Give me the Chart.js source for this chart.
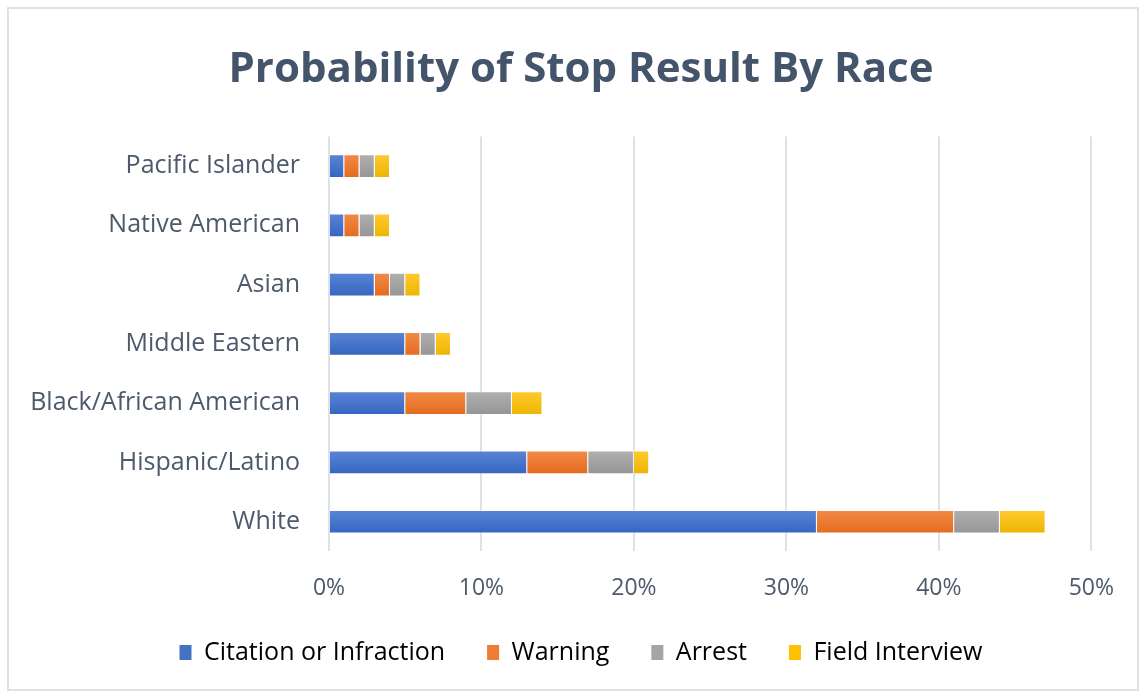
<!DOCTYPE html>
<html>
<head>
<meta charset="utf-8">
<script src="https://cdn.jsdelivr.net/npm/chart.js@4.4.1/dist/chart.umd.min.js"></script>
<style>
  html, body { margin: 0; padding: 0; background: #fff; }
  #frame { position: absolute; left: 7px; top: 7px; width: 1128px; height: 680px; border: 2px solid #DDE2EA; background: #fff; }
  #wrap { position: absolute; left: 0; top: 0; width: 1128px; height: 680px; }
</style>
</head>
<body>
<div id="frame"><div id="wrap"><canvas id="chart"></canvas></div></div>
<script>
// races, top to bottom
const races = ["Pacific Islander", "Native American", "Asian", "Middle Eastern", "Black/African American", "Hispanic/Latino", "White"];
// percent of stops
const citation = [1, 1, 3, 5, 5, 13, 32];
const warning = [1, 1, 1, 1, 4, 4, 9];
const arrest = [1, 1, 1, 1, 3, 3, 3];
const fieldInterview = [1, 1, 1, 1, 2, 1, 3];

const seriesNames = ["Citation or Infraction", "Warning", "Arrest", "Field Interview"];
const seriesData = [citation, warning, arrest, fieldInterview];
// [top, bottom] of the gradient, plus legend colour
const seriesColors = [
    ["#5B85D6", "#3465C0", "#4472C4"],
    ["#F28A48", "#E56A1C", "#ED7D31"],
    ["#B0B0B0", "#959595", "#A5A5A5"],
    ["#FFC930", "#EDB500", "#FFC000"]
];
const textColor = "#4D5A6B";

function barFill(i) {
    return function(ctx) {
        const chart = ctx.chart;
        const ys = chart.scales.y;
        if (!ys || ctx.type !== "data") return seriesColors[i][2];
        const c = ys.getPixelForValue(ctx.dataIndex);
        const h = ys.height / races.length * 0.4;
        const g = chart.ctx.createLinearGradient(0, c - h / 2, 0, c + h / 2);
        g.addColorStop(0, seriesColors[i][0]);
        g.addColorStop(1, seriesColors[i][1]);
        return g;
    };
}

const datasets = seriesNames.map((name, i) => ({
    label: name,
    data: seriesData[i],
    backgroundColor: barFill(i),
    borderColor: "rgba(255,255,255,0.35)",
    borderWidth: 1,
    barPercentage: 0.4,
    categoryPercentage: 1.0
}));

new Chart("chart", {
    type: "bar",
    data: { labels: races, datasets: datasets },
    options: {
        indexAxis: "y",
        responsive: true,
        maintainAspectRatio: false,
        animation: false,
        layout: { padding: { left: 19, right: 3, top: 36, bottom: 14 } },
        plugins: {
            title: {
                display: true,
                text: "Probability of Stop Result By Race",
                color: "#44546A",
                font: { family: "Open Sans", size: 42, weight: "bold" },
                padding: { top: 0, bottom: 41 }
            },
            legend: {
                position: "bottom",
                labels: {
                    color: textColor,
                    font: { family: "Open Sans", size: 25 },
                    boxWidth: 12,
                    boxHeight: 15,
                    padding: 42,
                    generateLabels: chart => seriesNames.map((n, i) => ({
                        text: n,
                        fillStyle: seriesColors[i][2],
                        strokeStyle: seriesColors[i][2],
                        lineWidth: 0,
                        datasetIndex: i
                    }))
                }
            },
            tooltip: { enabled: false }
        },
        scales: {
            x: {
                stacked: true,
                min: 0,
                max: 50,
                // let the legend's top padding tuck under the tick labels
                afterFit: scale => { scale.height -= 27; },
                ticks: {
                    stepSize: 10,
                    color: textColor,
                    font: { family: "Open Sans", size: 23 },
                    padding: 23,
                    callback: v => v + "%"
                },
                grid: { color: "#DDE2EA", lineWidth: 2, drawTicks: false },
                border: { display: false }
            },
            y: {
                stacked: true,
                afterFit: scale => { scale.width = 301; },
                ticks: {
                    color: textColor,
                    font: { family: "Open Sans", size: 25 },
                    padding: 29
                },
                grid: { display: false, drawTicks: false },
                border: { display: false }
            },
            // empty right-hand gutter so the title stays centred
            yRight: {
                position: "right",
                afterFit: scale => { scale.width = 37; },
                ticks: { display: false },
                grid: { display: false, drawTicks: false },
                border: { display: false }
            }
        }
    }
});
</script>
</body>
</html>
